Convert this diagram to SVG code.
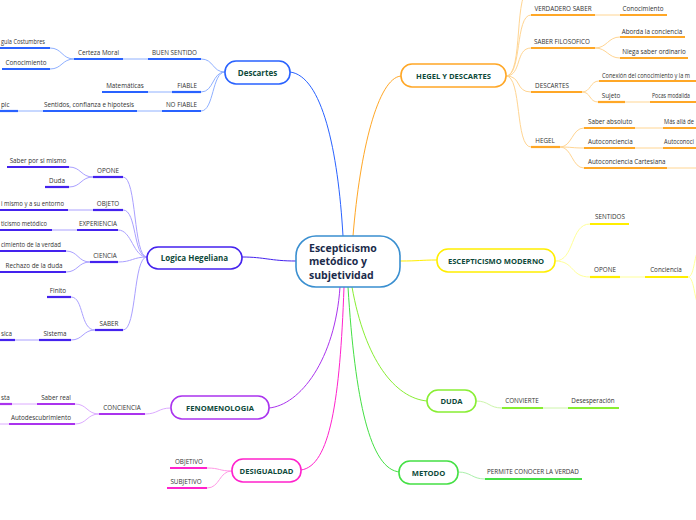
<svg xmlns="http://www.w3.org/2000/svg" width="696" height="520" viewBox="0 0 696 520">
<style>
.bg{fill:#fff}
.t{font-family:"Open Sans","DejaVu Sans",sans-serif;font-size:6.3px;fill:#333}
.m{text-anchor:middle}
.e{text-anchor:end}
.h{font-family:"Open Sans","DejaVu Sans",sans-serif;font-weight:bold;fill:#0d4a3a;text-anchor:middle}
.node{fill:#fff;stroke-width:1.6}
.c{fill:none;stroke-width:1}
.u{fill:none;stroke-width:2.2}
.bl{stroke:#2962ff}.bll{stroke:#8fb0ff}
.vi{stroke:#4422ee}.vil{stroke:#aaa0ff}
.pu{stroke:#aa33ee}.pul{stroke:#dcaaff}
.mg{stroke:#ff22cc}.mgl{stroke:#ff99e6}
.lg{stroke:#88ee33}.lgl{stroke:#ccf5aa}
.gr{stroke:#44e044}.grl{stroke:#aaf0aa}
.ye{stroke:#ffee00}.yel{stroke:#ffff99}
.or{stroke:#ffa726}.orl{stroke:#ffd592}
</style>
<rect class="bg" width="696" height="520"/>
<g id="connectors">
  <path class="c bl" stroke-width="1.6" d="M343 236 C338 150,322 76,290 72"/>
  <path class="c or" stroke-width="1.6" d="M353 236 C360 150,378 78,401 76"/>
  <path class="c vi" stroke-width="1.6" d="M296 261 C270 261,265 257,242 257"/>
  <path class="c ye" stroke-width="1.6" d="M400 261 C420 261,420 260,437 260"/>
  <path class="c pu" stroke-width="1.6" d="M340 287 C335 360,300 405,269 408"/>
  <path class="c mg" stroke-width="1.6" d="M344 287 C340 400,330 466,301 470"/>
  <path class="c gr" stroke-width="1.6" d="M348 287 C355 400,370 470,400 472"/>
  <path class="c lg" stroke-width="1.6" d="M352 287 C365 360,395 398,427 401"/>
  <path class="c bll" d="M225 72 C212 72,214 59,201 59"/>
  <path class="c bll" d="M225 72 C212 72,214 92,201 92"/>
  <path class="c bll" d="M225 72 C212 72,214 111,201 111"/>
  <path class="u bl" d="M148 59 H201"/>
  <path class="c bll" d="M123 59 H148"/>
  <path class="u bl" d="M74 59 H123"/>
  <path class="c bll" d="M74 59 C62 59,62 48,50 48"/>
  <path class="c bll" d="M74 59 C62 59,62 69,50 69"/>
  <path class="u bl" d="M0 48 H50"/>
  <path class="u bl" d="M2 69 H50"/>
  <path class="u bl" d="M172 92 H201"/>
  <path class="c bll" d="M148 92 H172"/>
  <path class="u bl" d="M102 92 H148"/>
  <path class="u bl" d="M162 111 H201"/>
  <path class="c bll" d="M137 111 H162"/>
  <path class="u bl" d="M43 111 H137"/>
  <path class="c bll" d="M18 111 H43"/>
  <path class="u bl" d="M0 111 H18"/>
  <path class="c vil" d="M147 257 C133 257,137 177,123 177"/>
  <path class="c vil" d="M147 257 C133 257,137 210,123 210"/>
  <path class="c vil" d="M147 257 C133 257,132 230,118 230"/>
  <path class="c vil" d="M147 257 C133 257,132 262,118 262"/>
  <path class="c vil" d="M147 257 C133 257,137 330,123 330"/>
  <path class="u vi" d="M93 177 H123"/>
  <path class="c vil" d="M93 177 C81 177,81 167,69 167"/>
  <path class="c vil" d="M93 177 C81 177,81 187,69 187"/>
  <path class="u vi" d="M7 167 H69"/>
  <path class="u vi" d="M45 187 H69"/>
  <path class="u vi" d="M93 210 H123"/>
  <path class="c vil" d="M68 210 H93"/>
  <path class="u vi" d="M0 210 H68"/>
  <path class="u vi" d="M77 230 H118"/>
  <path class="c vil" d="M52 230 H77"/>
  <path class="u vi" d="M0 230 H52"/>
  <path class="u vi" d="M90 262 H118"/>
  <path class="c vil" d="M90 262 C78 262,78 251,66 251"/>
  <path class="c vil" d="M90 262 C78 262,78 272,66 272"/>
  <path class="u vi" d="M0 251 H66"/>
  <path class="u vi" d="M0 272 H66"/>
  <path class="u vi" d="M95 330 H123"/>
  <path class="c vil" d="M95 330 C80 330,84 297,71 297"/>
  <path class="c vil" d="M95 330 C83 330,83 340,71 340"/>
  <path class="u vi" d="M47 297 H71"/>
  <path class="u vi" d="M39 340 H71"/>
  <path class="c vil" d="M15 340 H39"/>
  <path class="u vi" d="M0 340 H15"/>
  <path class="c pul" d="M171 408 C158 408,158 414,145 414"/>
  <path class="u pu" d="M99 414 H145"/>
  <path class="c pul" d="M99 414 C87 414,87 404,75 404"/>
  <path class="c pul" d="M99 414 C87 414,87 424,75 424"/>
  <path class="u pu" d="M37 404 H75"/>
  <path class="c pul" d="M12 404 H37"/>
  <path class="u pu" d="M0 404 H12"/>
  <path class="u pu" d="M9 424 H75"/>
  <path class="c pul" d="M0 424 H9"/>
  <path class="c mgl" d="M232 471 C219 471,220 468,207 468"/>
  <path class="c mgl" d="M232 471 C219 471,220 488,207 488"/>
  <path class="u mg" d="M170 468 H207"/>
  <path class="u mg" d="M167 488 H207"/>
  <path class="c lgl" d="M476 401 C489 401,489 408,502 408"/>
  <path class="u lg" d="M502 408 H543"/>
  <path class="c lgl" d="M543 408 H568"/>
  <path class="u lg" d="M568 408 H619"/>
  <path class="c grl" d="M458 472 C471 472,472 479,485 479"/>
  <path class="u gr" d="M485 479 H582"/>
  <path class="c yel" d="M555 261 C575 261,570 224,590 224"/>
  <path class="c yel" d="M555 261 C575 261,570 277,590 277"/>
  <path class="u ye" d="M590 224 H629"/>
  <path class="u ye" d="M590 277 H620"/>
  <path class="c yel" d="M620 277 H645"/>
  <path class="u ye" d="M645 277 H688"/>
  <path class="c yel" d="M688 277 C695 277,694 250,700 250"/>
  <path class="c yel" d="M688 277 C695 277,694 305,700 305"/>
  <path class="c orl" d="M506 76 C524 76,513 -12,531 -12"/>
  <path class="c orl" d="M506 76 C522 76,515 15,531 15"/>
  <path class="c orl" d="M506 76 C522 76,515 48,531 48"/>
  <path class="c orl" d="M506 76 C522 76,515 92,531 92"/>
  <path class="c orl" d="M506 76 C522 76,515 147,531 147"/>
  <path class="u or" d="M531 15 H595"/>
  <path class="c orl" d="M595 15 H620"/>
  <path class="u or" d="M620 15 H667"/>
  <path class="u or" d="M531 48 H595"/>
  <path class="c orl" d="M595 48 C607 48,608 37,620 37"/>
  <path class="c orl" d="M595 48 C607 48,608 58,620 58"/>
  <path class="u or" d="M620 37 H685"/>
  <path class="u or" d="M620 58 H688"/>
  <path class="u or" d="M531 92 H582"/>
  <path class="c orl" d="M582 92 C591 92,590 81,599 81"/>
  <path class="c orl" d="M582 92 C591 92,589 102,598 102"/>
  <path class="u or" d="M599 81 H696"/>
  <path class="u or" d="M598 102 H625"/>
  <path class="c orl" d="M625 102 H650"/>
  <path class="u or" d="M650 102 H696"/>
  <path class="u or" d="M531 147 H560"/>
  <path class="c orl" d="M560 147 C572 147,572 128,584 128"/>
  <path class="c orl" d="M560 147 C572 147,572 148,584 148"/>
  <path class="c orl" d="M560 147 C572 147,572 168,584 168"/>
  <path class="u or" d="M584 128 H635"/>
  <path class="c orl" d="M635 128 H663"/>
  <path class="u or" d="M663 128 H696"/>
  <path class="u or" d="M584 148 H635"/>
  <path class="c orl" d="M635 148 H663"/>
  <path class="u or" d="M663 148 H696"/>
  <path class="u or" d="M584 168 H667"/>
  <path class="c orl" d="M667 168 H696"/>
</g>
<g id="center">
  <rect class="node" x="296" y="236" width="104" height="51" rx="20" stroke="#3a8fd0"/>
  <text class="h" style="text-anchor:start;fill:#1b2b4b" font-size="10.5" x="309" y="252">Escepticismo</text>
  <text class="h" style="text-anchor:start;fill:#1b2b4b" font-size="10.5" x="309" y="265">metódico y</text>
  <text class="h" style="text-anchor:start;fill:#1b2b4b" font-size="10.5" x="309" y="279">subjetividad</text>
</g>
<g id="descartes">
  <rect class="node bl" x="225" y="61" width="65" height="23" rx="11"/>
  <text class="h" font-size="8" x="257.5" y="75.5">Descartes</text>
  <text class="t m" x="174.5" y="55">BUEN SENTIDO</text>
  <text class="t m" x="98.5" y="55">Certeza Moral</text>
  <text class="t" x="1" y="44" textLength="44" lengthAdjust="spacingAndGlyphs">gula Costumbres</text>
  <text class="t m" x="26" y="65">Conocimiento</text>
  <text class="t e" x="197" y="88">FIABLE</text>
  <text class="t m" x="125" y="88">Matemáticas</text>
  <text class="t e" x="197" y="107">NO FIABLE</text>
  <text class="t m" x="89" y="107">Sentidos, confianza e hipotesis</text>
  <text class="t" x="1" y="107">pic</text>
</g>
<g id="logica">
  <rect class="node vi" x="147" y="247" width="95" height="22" rx="11"/>
  <text class="h" font-size="8" x="194.5" y="261">Logica Hegeliana</text>
  <text class="t m" x="108" y="173">OPONE</text>
  <text class="t m" x="38" y="163">Saber por si mismo</text>
  <text class="t m" x="57" y="183">Duda</text>
  <text class="t m" x="108" y="206">OBJETO</text>
  <text class="t" x="1" y="206" textLength="63" lengthAdjust="spacingAndGlyphs">i mismo y a su entorno</text>
  <text class="t m" x="98" y="226">EXPERIENCIA</text>
  <text class="t" x="1" y="226" textLength="46" lengthAdjust="spacingAndGlyphs">ticismo metódico</text>
  <text class="t m" x="105" y="258">CIENCIA</text>
  <text class="t" x="1" y="247" textLength="60" lengthAdjust="spacingAndGlyphs">cimiento de la verdad</text>
  <text class="t m" x="34" y="268">Rechazo de la duda</text>
  <text class="t m" x="109" y="326">SABER</text>
  <text class="t m" x="58" y="293">Finito</text>
  <text class="t m" x="55" y="336">Sistema</text>
  <text class="t" x="1" y="336">sica</text>
</g>
<g id="fenomenologia">
  <rect class="node pu" x="171" y="396" width="98" height="23" rx="11"/>
  <text class="h" font-size="7.6" x="220" y="410.5">FENOMENOLOGIA</text>
  <text class="t m" x="122" y="410">CONCIENCIA</text>
  <text class="t m" x="56" y="400">Saber real</text>
  <text class="t" x="1" y="400">sta</text>
  <text class="t m" x="41" y="420">Autodescubrimiento</text>
</g>
<g id="desigualdad">
  <rect class="node mg" x="232" y="459" width="69" height="23" rx="11"/>
  <text class="h" font-size="7.6" x="266.5" y="473.5">DESIGUALDAD</text>
  <text class="t m" x="189" y="464">OBJETIVO</text>
  <text class="t m" x="186" y="484">SUBJETIVO</text>
</g>
<g id="duda">
  <rect class="node lg" x="427" y="390" width="49" height="22" rx="11"/>
  <text class="h" font-size="7.6" x="451.5" y="404">DUDA</text>
  <text class="t m" x="522" y="403">CONVIERTE</text>
  <text class="t m" x="593" y="403">Desesperación</text>
</g>
<g id="metodo">
  <rect class="node gr" x="399" y="461" width="59" height="23" rx="11"/>
  <text class="h" font-size="7.6" x="428.5" y="475.5">METODO</text>
  <text class="t m" x="533" y="474">PERMITE CONOCER LA VERDAD</text>
</g>
<g id="escepticismo-moderno">
  <rect class="node ye" x="437" y="249" width="118" height="23" rx="11"/>
  <text class="h" font-size="7.6" x="496" y="263.5">ESCEPTICISMO MODERNO</text>
  <text class="t m" x="610" y="219">SENTIDOS</text>
  <text class="t m" x="605" y="272">OPONE</text>
  <text class="t m" x="666" y="272">Conciencia</text>
</g>
<g id="hegel-y-descartes">
  <rect class="node or" x="401" y="64" width="105" height="23" rx="11"/>
  <text class="h" font-size="7.6" x="453.5" y="78.5">HEGEL Y DESCARTES</text>
  <text class="t m" x="563" y="11">VERDADERO SABER</text>
  <text class="t m" x="643" y="11">Conocimiento</text>
  <text class="t m" x="562" y="44">SABER FILOSOFICO</text>
  <text class="t m" x="652" y="34">Aborda la conciencia</text>
  <text class="t m" x="654" y="54">Niega saber ordinario</text>
  <text class="t m" x="552" y="88">DESCARTES</text>
  <text class="t" x="602" y="78" textLength="88" lengthAdjust="spacingAndGlyphs">Conexión del conocimiento y la m</text>
  <text class="t m" x="611" y="98">Sujeto</text>
  <text class="t" x="652" y="98" textLength="38" lengthAdjust="spacingAndGlyphs">Pocas modalida</text>
  <text class="t m" x="545" y="143">HEGEL</text>
  <text class="t" x="588" y="124">Saber absoluto</text>
  <text class="t" x="664" y="124" textLength="30" lengthAdjust="spacingAndGlyphs">Más allá de</text>
  <text class="t" x="588" y="144">Autoconciencia</text>
  <text class="t" x="664" y="144" textLength="30" lengthAdjust="spacingAndGlyphs">Autoconoci</text>
  <text class="t" x="588" y="164">Autoconciencia Cartesiana</text>
</g>
</svg>
